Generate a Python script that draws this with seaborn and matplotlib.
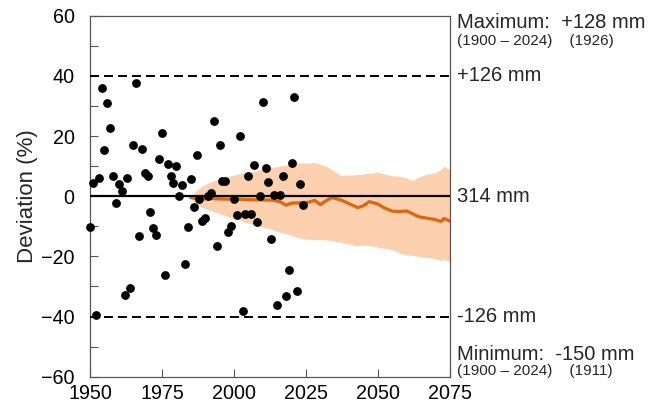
import numpy as np
import pandas as pd
import seaborn as sns
import matplotlib.pyplot as plt

# observed deviation per year (%)
years = list(range(1950, 2025))
deviation = [
    -10.2, 4.3, -39.6, 6.2, 35.9, 15.5, 30.9, 22.5, 6.7, -2.3,
    3.9, 1.8, -32.9, 5.9, -30.5, 17.1, 37.6, -13.1, 15.7, 7.6,
    6.8, -5.4, -10.6, -12.9, 12.3, 21.1, -26.2, 10.8, 6.8, 4.3,
    9.9, 0.1, 3.6, -22.7, -10.3, 5.8, -3.6, 13.7, -1.0, -8.2,
    -7.3, 0.2, 1.2, 24.9, -16.5, 16.9, 4.9, 4.9, -12.0, -9.9,
    -1.0, -6.1, 20.0, -38.2, -5.8, 6.6, -5.8, 10.5, -8.7, 0.0,
    31.2, 9.2, 4.8, -14.4, 0.4, -36.3, 0.4, 6.7, -33.2, -24.4,
    11.1, 33.0, -31.6, 4.2, -2.9,
]

# projection: median line and spread
proj_years = [1985, 1987, 1989, 1992, 1995, 1998, 2001, 2004, 2007, 2010,
              2013, 2016, 2018, 2020, 2023, 2026, 2028, 2030, 2032, 2034,
              2037, 2040, 2043, 2045, 2047, 2050, 2052, 2055, 2058, 2060,
              2062, 2064, 2067, 2070, 2072, 2073, 2075]
proj_mid = [-0.5, -0.8, -0.9, -0.8, -0.9, -1.0, -1.0, -1.1, -1.2, -1.3,
            -1.3, -1.8, -3.0, -2.3, -2.2, -2.0, -1.4, -2.8, -1.5, -0.5,
            -1.2, -2.5, -3.8, -3.2, -1.8, -2.6, -3.8, -5.0, -5.1, -4.9,
            -5.8, -6.8, -7.3, -7.8, -8.4, -7.4, -8.3]
proj_high = [-0.5, 2.0, 3.4, 4.8, 5.6, 6.5, 7.3, 7.8, 8.3, 9.0,
             9.5, 10.0, 10.3, 10.6, 11.1, 11.0, 11.3, 10.6, 10.0, 8.8,
             7.0, 7.0, 7.2, 7.4, 7.6, 8.0, 7.4, 6.8, 6.6, 6.0,
             5.2, 6.3, 7.3, 7.8, 9.0, 10.0, 8.8]
proj_low = [-0.5, -2.8, -3.8, -4.8, -5.8, -6.8, -7.6, -8.6, -9.6, -10.3,
            -11.0, -12.0, -12.5, -13.0, -14.0, -14.3, -14.5, -14.4, -14.5, -14.8,
            -15.3, -16.0, -16.5, -16.2, -16.4, -17.0, -17.3, -17.8, -19.0, -19.5,
            -19.7, -20.0, -20.4, -20.8, -21.4, -21.0, -21.8]

# reference levels on the right
right_labels = ["+126 mm", "314 mm", "-126 mm"]
right_levels = [40, 0, -40]

obs = pd.DataFrame({"year": years, "dev": deviation})
proj = pd.DataFrame({"year": proj_years, "mid": proj_mid, "hi": proj_high, "lo": proj_low})

sns.set_style("ticks")
plt.rcParams["font.family"] = ["Liberation Sans", "DejaVu Sans"]

fig = plt.figure(figsize=(6.59, 4.07), dpi=100)
ax = fig.add_axes([0.1366, 0.0745, 0.546, 0.887])

ax.fill_between(proj["year"], proj["lo"], proj["hi"], color="#fdd0b0", linewidth=0, zorder=1)
sns.lineplot(data=proj, x="year", y="mid", color="#e0650f", linewidth=2.3, ax=ax, zorder=2)
ax.axhline(0, color="black", linewidth=1.6, zorder=3)
for lv in [40, -40]:
    ax.axhline(lv, color="black", linewidth=1.4, linestyle=(0, (4.6, 2.6)), zorder=3)
sns.scatterplot(data=obs, x="year", y="dev", color="black", s=40, linewidth=0, ax=ax,
                zorder=4, clip_on=False)

ax.set_xlim(1950, 2075)
ax.set_ylim(-60, 60)
ax.set_xticks([1950, 1975, 2000, 2025, 2050, 2075])
ax.set_yticks(range(-60, 61, 20))
ax.set_yticks(range(-50, 60, 20), minor=True)
ax.tick_params(axis="both", which="both", direction="in", length=6, width=0.8,
               labelsize=14.2, colors="#555555", labelcolor="black")
ax.tick_params(axis="x", pad=5)
ax.tick_params(axis="y", pad=11)
ax.set_xlabel("")
ax.set_ylabel("Deviation (%)", fontsize=16)
ax.yaxis.set_label_coords(-0.145, 0.5)
for sp in ax.spines.values():
    sp.set_color("#555555")
    sp.set_linewidth(0.9)

trans = ax.get_yaxis_transform()
for lab, lv in zip(right_labels, right_levels):
    ax.text(1.02, lv, lab, transform=trans, fontsize=14.5, va="center", ha="left")

ax.text(1.02, 55.8, "Maximum:  +128 mm", transform=trans, fontsize=14.5, va="baseline", ha="left")
ax.text(1.02, 50.4, "(1900 \u2013 2024)    (1926)", transform=trans, fontsize=11, va="baseline", ha="left")
ax.text(1.02, -54.3, "Minimum:  -150 mm", transform=trans, fontsize=14.5, va="baseline", ha="left")
ax.text(1.02, -59.5, "(1900 \u2013 2024)    (1911)", transform=trans, fontsize=11, va="baseline", ha="left")

fig.savefig("out.png", dpi=100)
